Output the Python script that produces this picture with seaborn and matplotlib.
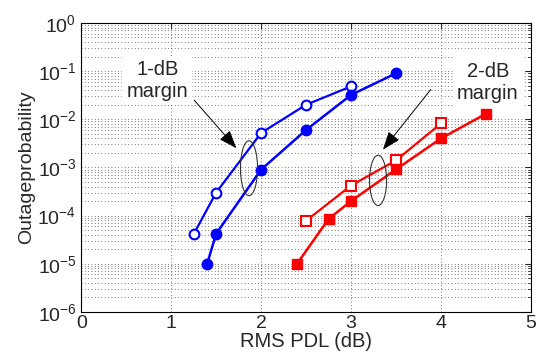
import matplotlib
matplotlib.use("Agg")
import matplotlib.pyplot as plt
from matplotlib.patches import Ellipse
import seaborn as sns

# outage probability vs RMS PDL
blue_open_x = [1.25, 1.5, 2.0, 2.5, 3.0]
blue_open_y = [4.1e-5, 3.0e-4, 5.2e-3, 2.0e-2, 4.8e-2]
blue_fill_x = [1.4, 1.5, 2.0, 2.5, 3.0, 3.5]
blue_fill_y = [1.0e-5, 4.2e-5, 9.0e-4, 6.0e-3, 3.2e-2, 9.0e-2]
red_open_x = [2.5, 3.0, 3.5, 4.0]
red_open_y = [7.8e-5, 4.2e-4, 1.4e-3, 8.2e-3]
red_fill_x = [2.4, 2.75, 3.0, 3.5, 4.0, 4.5]
red_fill_y = [1.0e-5, 8.5e-5, 2.0e-4, 9.1e-4, 4.0e-3, 1.3e-2]

sns.set_style("white")
plt.rcParams['font.family'] = ['Liberation Sans', 'DejaVu Sans']
plt.rcParams['mathtext.default'] = 'regular'

fig = plt.figure(figsize=(5.38, 3.58), dpi=100)
ax = fig.add_axes([0.151, 0.129, 0.836, 0.807])

sns.lineplot(x=blue_open_x, y=blue_open_y, ax=ax, sort=False, errorbar=None,
             color='blue', linewidth=1.6, marker='o', markersize=7,
             markerfacecolor='white', markeredgecolor='blue', markeredgewidth=1.5)
sns.lineplot(x=blue_fill_x, y=blue_fill_y, ax=ax, sort=False, errorbar=None,
             color='blue', linewidth=1.8, marker='o', markersize=7.5,
             markerfacecolor='blue', markeredgecolor='blue', markeredgewidth=1)
sns.lineplot(x=red_open_x, y=red_open_y, ax=ax, sort=False, errorbar=None,
             color='red', linewidth=1.6, marker='s', markersize=6.5,
             markerfacecolor='white', markeredgecolor='red', markeredgewidth=1.5)
sns.lineplot(x=red_fill_x, y=red_fill_y, ax=ax, sort=False, errorbar=None,
             color='red', linewidth=1.8, marker='s', markersize=7,
             markerfacecolor='red', markeredgecolor='red', markeredgewidth=1)

ax.set_yscale('log')
ax.set_xlim(0, 5)
ax.set_ylim(1e-6, 1)
ax.set_yticks([1e-6, 1e-5, 1e-4, 1e-3, 1e-2, 1e-1, 1])
ax.grid(True, which='both', color='0.3', linestyle=(0, (1, 3)), linewidth=0.6)
ax.tick_params(which='both', direction='in', top=True, right=True, labelsize=14)
ax.tick_params(axis='x', pad=2)
ax.tick_params(which='major', length=4)
ax.tick_params(which='minor', length=2)
for s in ax.spines.values():
    s.set_color('k')
    s.set_linewidth(0.8)

ax.set_xlabel('RMS PDL (dB)', fontsize=14.5, labelpad=0)
ax.set_ylabel('Outageprobability', fontsize=14, labelpad=2)

box = dict(facecolor='white', edgecolor='none', pad=3)
ax.text(0.169, 0.80, '1-dB\nmargin', transform=ax.transAxes, ha='center', va='center',
        fontsize=14.5, bbox=box, zorder=5)
ax.text(0.904, 0.795, '2-dB\nmargin', transform=ax.transAxes, ha='center', va='center',
        fontsize=14.5, bbox=box, zorder=5)

ax.add_patch(Ellipse((0.373, 0.497), 0.038, 0.19, transform=ax.transAxes,
                     fill=False, edgecolor='0.2', linewidth=0.8, zorder=6))
ax.add_patch(Ellipse((0.66, 0.455), 0.038, 0.174, transform=ax.transAxes,
                     fill=False, edgecolor='0.2', linewidth=0.8, zorder=6))

arrow = dict(arrowstyle='-|>,head_length=0.8,head_width=0.3', color='k', lw=0.7,
             mutation_scale=14)
ax.annotate('', xy=(0.349, 0.559), xytext=(0.247, 0.74),
            xycoords='axes fraction', textcoords='axes fraction', arrowprops=arrow)
ax.annotate('', xy=(0.667, 0.554), xytext=(0.781, 0.777),
            xycoords='axes fraction', textcoords='axes fraction', arrowprops=arrow)

fig.savefig('out.png', dpi=100)
